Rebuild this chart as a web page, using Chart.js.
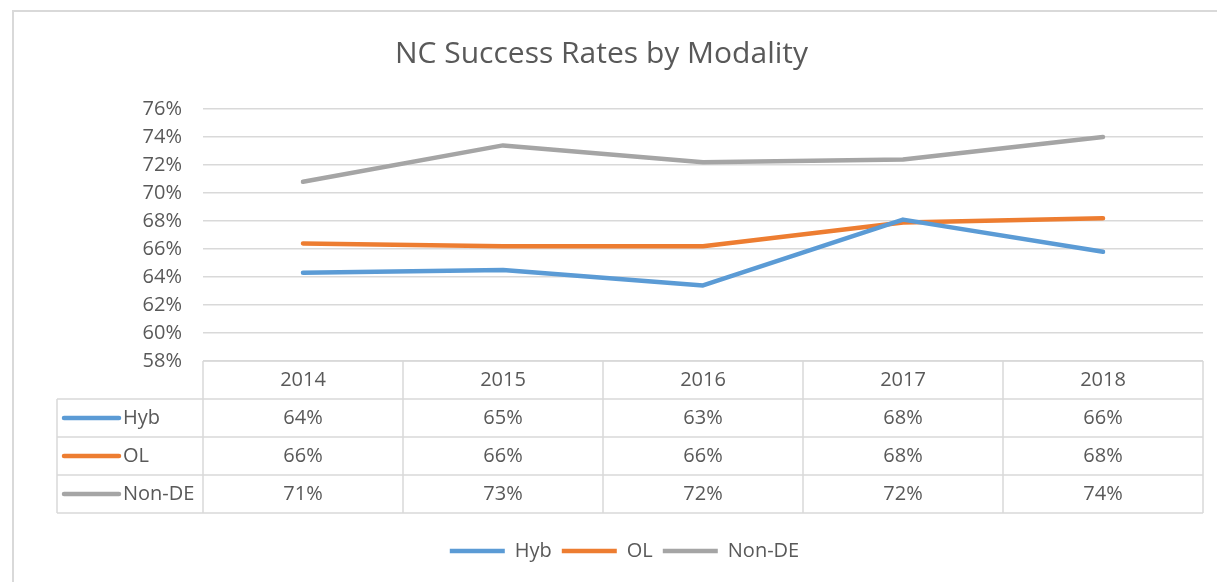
<!DOCTYPE html>
<html>
<head>
<meta charset="utf-8">
<script src="https://cdn.jsdelivr.net/npm/chart.js@4"></script>
<style>
  html, body { margin: 0; padding: 0; background: #fff; overflow: hidden; }
  #wrap { width: 1217px; height: 582px; position: relative; }
</style>
</head>
<body>
<div id="wrap"><canvas id="myChart"></canvas></div>
<script>
  const years = ['2014', '2015', '2016', '2017', '2018'];
  const seriesNames = ['Hyb', 'OL', 'Non-DE'];
  const hyb = [64.3, 64.5, 63.4, 68.1, 65.8];
  const ol = [66.4, 66.2, 66.2, 67.9, 68.2];
  const nonDe = [70.8, 73.4, 72.2, 72.4, 74.0];
  const colors = ['#5B9BD5', '#ED7D31', '#A5A5A5'];

  const textColor = '#595959';
  const lineColor = '#d9d9d9';
  const font = 'Open Sans';

  // data table under the plot, like Excel's "data table with legend keys"
  const dataTable = {
    id: 'dataTable',
    afterLayout(chart) {
      // excel centres the bottom legend a bit right of the plot centre
      chart.legend.left += 23;
      chart.legend.right += 23;
    },
    afterDraw(chart) {
      const ctx = chart.ctx;
      const x = chart.scales.x;
      const area = chart.chartArea;
      const rowH = 38;
      const top = area.bottom;
      const keyLeft = area.left - 146;
      const colW = x.width / years.length;
      const rows = chart.data.datasets;

      ctx.save();
      // outer frame of the chart object
      ctx.strokeStyle = lineColor;
      ctx.lineWidth = 2;
      ctx.beginPath();
      ctx.moveTo(13, 600);
      ctx.lineTo(13, 11);
      ctx.lineTo(1230, 11);
      ctx.stroke();

      ctx.lineWidth = 1.5;
      ctx.beginPath();
      ctx.moveTo(area.left, top);
      ctx.lineTo(area.right, top);
      for (let r = 1; r <= rows.length + 1; r++) {
        ctx.moveTo(keyLeft, top + r * rowH);
        ctx.lineTo(area.right, top + r * rowH);
      }
      ctx.moveTo(keyLeft, top + rowH);
      ctx.lineTo(keyLeft, top + (rows.length + 1) * rowH);
      for (let c = 0; c <= years.length; c++) {
        ctx.moveTo(x.left + c * colW, top);
        ctx.lineTo(x.left + c * colW, top + (rows.length + 1) * rowH);
      }
      ctx.stroke();

      ctx.fillStyle = textColor;
      ctx.font = '20px "' + font + '"';
      ctx.textAlign = 'center';
      ctx.textBaseline = 'middle';
      years.forEach((y, i) => {
        ctx.fillText(y, x.getPixelForValue(i), top + rowH / 2);
      });

      rows.forEach((ds, r) => {
        const cy = top + (r + 1.5) * rowH;
        ctx.strokeStyle = ds.borderColor;
        ctx.lineWidth = 4.5;
        ctx.lineCap = 'round';
        ctx.beginPath();
        ctx.moveTo(keyLeft + 7, cy);
        ctx.lineTo(keyLeft + 62, cy);
        ctx.stroke();
        ctx.textAlign = 'left';
        ctx.fillText(ds.label, keyLeft + 66, cy);
        ctx.textAlign = 'center';
        ds.data.forEach((v, i) => {
          ctx.fillText(Math.round(v) + '%', x.getPixelForValue(i), cy);
        });
      });
      ctx.restore();
    }
  };

  const data = {
    labels: years,
    datasets: [hyb, ol, nonDe].map((vals, i) => ({
      label: seriesNames[i],
      data: vals,
      borderColor: colors[i],
      backgroundColor: colors[i],
      borderWidth: 4.5,
      borderCapStyle: 'round',
      borderJoinStyle: 'round',
      pointRadius: 0,
      pointStyle: 'line',
      tension: 0
    }))
  };

  const config = {
    type: 'line',
    data: data,
    options: {
      responsive: true,
      maintainAspectRatio: false,
      animation: false,
      devicePixelRatio: 1,
      layout: { padding: { left: 0, right: 14, top: 0, bottom: 11 } },
      plugins: {
        title: {
          display: true,
          text: 'NC Success Rates by Modality',
          color: textColor,
          font: { family: font, size: 30, weight: 'normal' },
          padding: { top: 36, bottom: 37 }
        },
        legend: {
          position: 'bottom',
          labels: {
            usePointStyle: true,
            pointStyleWidth: 55,
            color: textColor,
            font: { family: font, size: 20 },
            padding: 10
          }
        },
        tooltip: { enabled: false }
      },
      scales: {
        x: {
          offset: true,
          grid: { display: false, drawTicks: false },
          border: { display: false },
          ticks: { display: false },
          afterFit: s => { s.height = 170; }
        },
        y: {
          min: 58,
          max: 76,
          ticks: {
            stepSize: 2,
            padding: 21,
            color: textColor,
            font: { family: font, size: 20 },
            callback: v => v + '%'
          },
          grid: { color: lineColor, lineWidth: 1.5, drawTicks: false },
          border: { display: false },
          afterFit: s => { s.width = 203; }
        }
      }
    },
    plugins: [dataTable]
  };

  const myChart = new Chart(
    document.getElementById('myChart'),
    config
  );
</script>
</body>
</html>
